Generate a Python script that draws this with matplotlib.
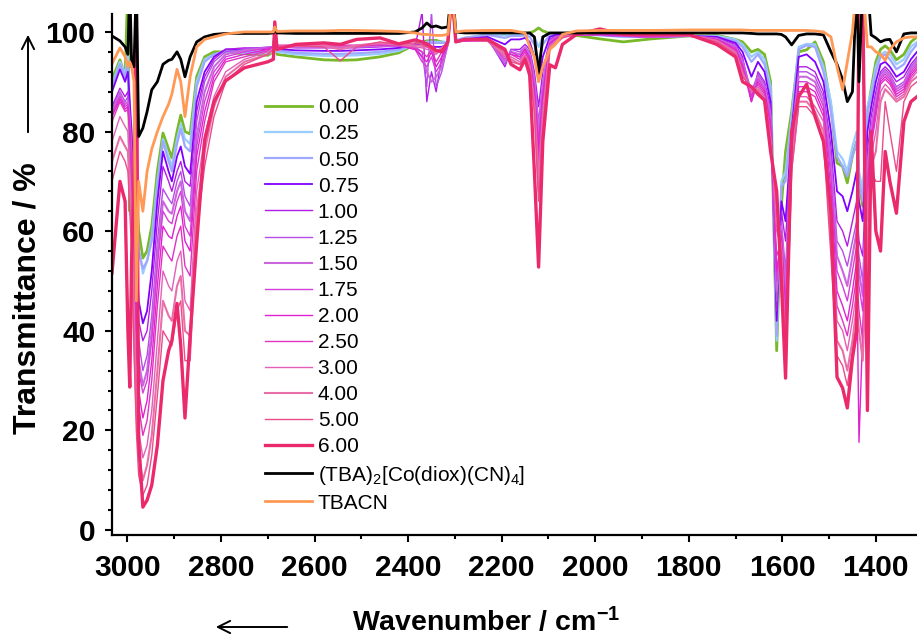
import matplotlib
matplotlib.use("Agg")
import matplotlib.pyplot as plt
from matplotlib.ticker import MultipleLocator

# Font setup (Arial look-alike)
plt.rcParams["font.family"] = ["Liberation Sans", "DejaVu Sans"]
plt.rcParams["mathtext.fontset"] = "custom"
plt.rcParams["mathtext.rm"] = "Liberation Sans"
plt.rcParams["mathtext.it"] = "Liberation Sans:italic"
plt.rcParams["mathtext.bf"] = "Liberation Sans:bold"

# Wavenumber grid (cm-1), 10 per line
wn = [3033, 3016, 3005, 2999, 2995, 2991, 2986, 2981, 2976, 2967,
      2958, 2948, 2936, 2924, 2912, 2905, 2894, 2886, 2877, 2866,
      2852, 2835, 2815, 2790, 2750, 2700, 2688, 2685, 2680, 2640,
      2580, 2545, 2510, 2460, 2420, 2385, 2370, 2360, 2350, 2340,
      2328, 2315, 2306, 2298, 2280, 2230, 2193, 2180, 2161, 2150,
      2140, 2130, 2121, 2112, 2097, 2085, 2070, 2040, 1990, 1940,
      1880, 1800, 1740, 1700, 1685, 1666, 1652, 1638, 1625, 1612,
      1602, 1593, 1580, 1565, 1548, 1530, 1512, 1496, 1483, 1471,
      1461, 1450, 1441, 1436, 1428, 1418, 1410, 1400, 1390, 1380,
      1370, 1356, 1340, 1325, 1312]

t_000 = [90.5, 94.4, 91, 110, 64, 76, 74, 68, 60, 54.6,
         56, 61, 72, 79.7, 76.5, 74.7, 80, 83.3, 80, 79.5,
         91, 95, 96, 96, 95.6, 95.3, 96, 99, 95.5, 95,
         94.4, 94.3, 94.4, 95, 95.8, 97.5, 98, 98.2, 98.3, 98.3,
         98, 97.8, 108, 98, 98.5, 99.5, 99.5, 99.6, 99.6, 99.6,
         99.8, 100.2, 100.8, 100.2, 99.7, 99.5, 99.5, 99.3, 98.6, 98,
         98.6, 99.2, 99.3, 98.5, 98, 96, 96.5, 95.5, 90, 36,
         65, 76, 84, 96, 96.4, 98, 94, 85, 73.7, 73,
         69.7, 75.2, 78, 70, 65, 84, 88.5, 94, 96.5, 97.2,
         96.4, 94.4, 95.5, 98, 99]
t_025 = [89.5, 94, 91.5, 96, 78, 73, 70, 64, 57, 51.5,
         54, 59, 70, 78.5, 75, 73, 78.5, 81.5, 78.5, 77.5,
         90, 94.5, 95.5, 96, 95.8, 95.7, 96, 100.5, 96, 95.5,
         95.2, 95.2, 95.3, 95.6, 96.2, 97.5, 97.8, 98, 98, 98,
         98, 98, 108, 98.3, 98.8, 99.5, 99.3, 99.5, 99.5, 99.5,
         99.5, 99, 97, 99, 99.6, 99.7, 99.7, 99.6, 99.3, 99,
         99, 99.2, 99.2, 98.5, 97.5, 95, 96, 94.5, 89, 38,
         70, 72, 83, 97, 97.6, 97.5, 93, 86, 76, 74.5,
         72, 77, 80, 72, 68, 85, 88, 93, 95.5, 96,
         95.5, 93.5, 94.5, 97, 98]
t_050 = [89, 93.5, 91, 94, 80, 74, 71, 63, 56, 52.5,
         54, 58, 69, 78, 74, 72, 77.5, 80.5, 77, 76,
         89, 94, 95.5, 96.2, 96, 96, 96.5, 100.8, 96.3, 95.8,
         95.6, 95.6, 95.7, 96, 96.5, 97.5, 97.5, 97.8, 97.8, 97.8,
         97.8, 97.8, 108, 98.3, 98.8, 99.4, 98.8, 99.2, 99.2, 99.3,
         99, 97.5, 94, 97.5, 99.4, 99.6, 99.6, 99.6, 99.4, 99.1,
         99, 99.2, 99, 98.2, 97, 94, 95.5, 93.5, 88, 39,
         69, 70, 82, 96.5, 97.3, 97, 92, 84, 75, 73,
         71, 75, 78, 70, 66, 84, 87, 92, 95, 95.5,
         94.5, 92.5, 93.5, 96, 97.5]
t_075 = [88, 92.5, 90, 92, 86, 80, 70, 56, 46, 41.5,
         44, 52, 66, 76, 72, 70, 75, 77, 73, 71.5,
         86, 92, 95, 96.5, 96.5, 96.5, 96.8, 101, 96.6, 96.3,
         96.2, 96.2, 96.3, 96.5, 96.8, 97.5, 97.3, 97.2, 97, 97,
         97, 97.5, 108, 98, 98.5, 99, 97.5, 98.5, 98.5, 98.8,
         98, 95, 90, 95, 99, 99.4, 99.5, 99.5, 99.4, 99.2,
         99, 99.2, 99, 97.8, 96, 91, 94, 92, 86, 42,
         66, 62, 80, 95, 95.5, 94, 90, 80, 68, 67,
         64, 68, 72, 66, 62, 80, 85, 90, 93.5, 94,
         93, 91, 92, 94.5, 96]
t_100 = [85, 88.7, 87, 88, 84, 78, 66, 52, 42, 38,
         40, 48, 62, 73, 70, 68, 72, 74, 70, 69,
         84, 91, 94.5, 96.5, 96.8, 96.8, 97, 101, 97, 96.8,
         96.8, 96.8, 96.8, 97, 97.2, 97, 104, 86, 92, 88,
         95, 98, 108, 98, 98.3, 98.8, 93, 96.5, 96.5, 97.5,
         96.5, 92, 85, 92, 98.5, 99.2, 99.4, 99.5, 99.4, 99.2,
         99, 99.2, 98.8, 97.5, 95, 86, 92, 90, 85, 44,
         64, 58, 80, 93, 93, 92, 88, 77, 62, 60,
         57, 62, 66, 58, 55, 76, 83, 88, 92, 93,
         92, 90, 91, 93.5, 95]
t_125 = [84.5, 88, 86, 87, 83, 76, 62, 48, 38, 32,
         35, 43, 58, 68.5, 66.5, 65.5, 70, 72, 67, 65,
         82, 90, 94, 96, 96.5, 97, 97, 101, 97, 97,
         97, 97, 97, 97.2, 97.3, 97, 96, 89, 104, 89,
         92, 97.5, 108, 98, 98.3, 98.5, 93.5, 96.5, 96, 97,
         96, 91, 82, 90, 98.3, 99, 99.3, 99.5, 99.4, 99.2,
         99, 99.2, 98.7, 97.2, 94.5, 88, 91.5, 89.5, 84, 46,
         62, 52, 79, 92, 92, 91, 87, 75, 58, 56,
         53, 58, 62, 55, 50, 74, 81, 87, 91.5, 92.5,
         91.5, 89, 90, 93, 94.5]
t_150 = [84, 87.5, 85.5, 86, 82, 74, 60, 45, 34, 29,
         32, 40, 55, 66, 64, 63.5, 68, 70, 64, 62,
         79, 88, 93, 95.5, 96.3, 96.8, 97, 101.5, 97, 97,
         97, 97, 97, 97.2, 97.2, 96.8, 95, 92, 90, 91,
         93, 97.5, 108, 98, 98.2, 98.5, 94, 96, 95.5, 96.8,
         95.5, 90, 80, 89, 98, 98.8, 99.2, 99.4, 99.4, 99.2,
         99, 99.2, 98.6, 97, 94, 87, 91, 89, 83, 48,
         61, 48, 78, 91, 91, 90, 86, 73, 55, 52,
         49, 55, 60, 52, 47, 72, 80, 86, 91, 92,
         91, 88.5, 89.5, 92.5, 94]
t_175 = [83.5, 87, 85, 85.5, 81, 73, 58, 43, 32, 27.5,
         30, 38, 53, 64, 62, 61.5, 66, 68, 61, 59,
         77, 86, 92, 95, 96, 96.8, 97, 101.5, 97.2, 97.2,
         97.2, 97.2, 97.2, 97.3, 97.2, 96.5, 94, 93, 95, 92,
         94, 97.5, 108, 98, 98.2, 98.4, 94.5, 96, 95, 96.5,
         95, 89, 78, 88, 97.8, 98.7, 99.2, 99.4, 99.4, 99.2,
         99, 99.2, 98.5, 96.8, 93.5, 87, 90.5, 88.5, 82, 50,
         60, 45, 77, 90, 90, 89, 85, 71, 52, 49,
         46, 52, 57, 49, 44, 70, 79, 85, 90.5, 91.5,
         90.5, 88, 89, 92, 93.5]
t_200 = [83, 86.5, 84.5, 85, 80, 71, 55, 40, 28, 22.5,
         26, 34, 49, 61, 59, 58.5, 63, 65, 58, 56,
         75, 84, 91, 94.5, 95.5, 96.5, 97, 101.5, 97.3, 97.3,
         97.3, 97.3, 97.3, 97.4, 97.3, 96.5, 95, 94, 96, 93,
         95, 97.5, 108, 98, 98.2, 98.3, 95, 95.5, 95, 96.5,
         94.5, 88, 76, 87, 97.6, 98.6, 99.2, 99.4, 99.5, 99.3,
         99.1, 99.2, 98.5, 96.5, 93, 86, 90, 88, 81, 52,
         59, 42, 76, 89, 89, 88, 84, 68, 48, 45,
         42, 48, 54, 17.6, 40, 68, 78, 84, 90, 91,
         90, 87.5, 88.5, 91.5, 93]
t_250 = [82, 86, 84, 84.5, 79, 70, 52, 36, 25, 19,
         22, 30, 45, 57, 55, 54, 59, 61, 53, 51,
         72, 82, 90, 94, 95, 96.2, 97, 101.5, 97.3, 97.3,
         97.3, 97.3, 97.3, 97.4, 97.3, 96.7, 96, 95, 96.5, 94,
         96, 97.5, 108, 98, 98.2, 98.2, 95.5, 95.5, 94.5, 96,
         94, 87, 74, 86, 97.4, 98.4, 99.1, 99.4, 99.6, 99.4,
         99.2, 99.2, 98.4, 96.2, 92.5, 87, 89.5, 87.5, 80, 55,
         58, 40, 75, 88, 88, 87, 83, 65, 45, 42,
         39, 45, 51, 44, 38, 66, 77, 83, 89.5, 90.5,
         89.5, 87, 88, 91, 92.5]
t_300 = [78, 83, 81, 80, 72, 64, 45, 30, 20, 14.5,
         17, 24, 38, 52, 49, 48, 54, 56, 46, 44,
         68, 79, 87, 92, 94.5, 96, 96.8, 101.5, 97.2, 97.3,
         97.3, 97, 97.3, 97.6, 97.4, 97, 96.8, 96.5, 96.5, 95.5,
         96.5, 97.5, 108, 98, 98.3, 98.2, 95, 95, 94, 95.5,
         93.5, 86, 72, 84, 97.2, 98.2, 99, 99.5, 99.8, 99.6,
         99.3, 99.3, 98.3, 96, 92, 88, 89, 87, 79, 60,
         57, 37, 74, 87, 87, 85, 82, 62, 42, 40,
         36, 42, 48, 105, 105, 62, 75, 80, 88, 89.5,
         88.5, 86.5, 87.5, 90.5, 92]
t_400 = [74, 79, 77, 76, 68, 60, 40, 24, 15, 10,
         13, 19, 32, 46, 43, 42, 49, 51, 40, 39,
         64, 76, 85, 91, 94, 95.5, 96.5, 101.5, 97, 97.2,
         97.2, 96.5, 97.3, 97.8, 97.5, 97.3, 97.2, 97, 96.8, 96,
         96.8, 97.5, 108, 98, 98.4, 98.2, 95.5, 94.5, 93.5, 95,
         93, 85, 68, 82, 97, 98, 99, 99.5, 100, 99.7,
         99.4, 99.3, 98.2, 95.8, 91.5, 88.5, 88.5, 86.5, 78, 64,
         56, 35, 73, 86, 86, 84, 80, 58, 38, 36,
         32, 38, 45, 40, 34, 58, 73, 76, 86, 88.5,
         87.5, 86, 87, 90, 91]
t_500 = [70, 76, 74, 72, 64, 56, 36, 20, 11, 7,
         9, 15, 27, 40, 38, 37, 44, 46, 34, 34,
         60, 73, 83, 90, 93.5, 95.5, 96.5, 101.5, 97, 97.2,
         97, 94.2, 97, 98, 97.5, 97.8, 97.5, 97, 96.5, 96,
         96.5, 97.5, 108, 98, 98.4, 98.2, 96, 94, 93.5, 95,
         92.5, 84, 66, 80, 96.5, 97.5, 98.8, 99.6, 100.2, 99.8,
         99.5, 99.4, 98, 95.5, 91, 89, 88, 86, 77, 66,
         55, 33, 72, 85, 85, 83, 78, 55, 35, 33,
         29, 36, 42, 105, 105, 40, 72, 70, 70, 86,
         80, 72, 86, 89, 90]
t_600 = [51.6, 70, 66, 40, 28.7, 55, 70, 108, 18, 4.6,
         6, 9, 17, 30, 36, 38, 45.5, 37, 22.5, 39,
         57.6, 78.3, 86, 90.2, 92.8, 94, 94.5, 102, 96.5, 97.5,
         97.8, 97.5, 98.5, 98.8, 97.6, 98.4, 98, 97.6, 97, 96.3,
         96, 98, 108, 98, 98.5, 98.5, 96.5, 93.5, 92.4, 94.5,
         91.3, 72, 52.8, 78, 93.4, 92.8, 97.5, 99.5, 100.6, 99.5,
         99.5, 99.5, 97.5, 95, 90, 89, 87.5, 86.3, 76, 68,
         50, 30.5, 80, 87, 89.5, 83, 78, 64, 30.7, 28.5,
         24.5, 34.5, 40, 108, 108, 24, 80, 60, 56, 76,
         70, 63.6, 82, 86, 87]
t_complex = [99.2, 98.2, 97, 95.5, 110, 93, 93, 110, 79, 80.7,
             84, 88.4, 90, 93.5, 94.3, 94.5, 96, 94.5, 91, 95,
             98, 99, 99.5, 99.7, 99.7, 99.7, 99.8, 100.6, 99.8, 99.7,
             99.7, 99.7, 99.7, 99.7, 99.7, 100, 100.8, 101.8, 101, 101.2,
             100.8, 101, 110, 100, 99.8, 99.8, 99.8, 99.8, 99.8, 99.8,
             99.8, 99, 91.7, 99, 99.8, 99.8, 99.8, 99.8, 99.8, 99.8,
             99.8, 99.8, 99.8, 99.8, 99.8, 99.7, 99.6, 99.6, 99.6, 99.6,
             99.5, 99, 97.4, 99.3, 99.6, 99.6, 99.4, 96, 93.5, 90.4,
             86, 88, 110, 90, 110, 110, 99.4, 98.8, 98, 98.4,
             98.5, 96, 99.6, 99.8, 99.8]
t_tbacn = [93.6, 96.8, 95, 93, 94, 93, 90, 46, 70, 64,
           72, 76.5, 80, 83, 85.5, 87.5, 92.5, 90, 83, 91,
           97, 98.5, 99, 99.6, 100, 100, 100, 101, 100.1, 100.2,
           100.2, 100.3, 100.3, 100.2, 100.1, 99.8, 99.5, 99.5, 99.4, 99.3,
           99.3, 99.5, 108, 100, 100.2, 100.3, 100.3, 100.3, 100, 99.8,
           97, 95, 90, 93, 96.5, 97.5, 99.5, 100.2, 100.3, 100.3,
           100.3, 100.4, 100.4, 100.4, 100.4, 100.3, 100.3, 100.3, 100.3, 100.3,
           100.3, 100.3, 100.3, 100.3, 100.3, 100.2, 100, 99, 93, 88.4,
           94, 100, 110, 110, 110, 97, 97, 96, 95.5, 94.3,
           96.5, 98, 98.8, 99, 99]

labels = ["0.00", "0.25", "0.50", "0.75", "1.00", "1.25", "1.50", "1.75",
          "2.00", "2.50", "3.00", "4.00", "5.00", "6.00",
          r"(TBA)$_2$[Co(diox)(CN)$_4$]", "TBACN"]
series = [t_000, t_025, t_050, t_075, t_100, t_125, t_150, t_175,
          t_200, t_250, t_300, t_400, t_500, t_600, t_complex, t_tbacn]
colors = ["#79b829", "#99ccff", "#9fa8ff", "#8000ff", "#b21de6", "#b54de6",
          "#cc66dd", "#d33fd9", "#e022cf", "#e033c2", "#e45fb8", "#e86fa8",
          "#ea4c8c", "#ea2a6c", "#000000", "#ff9955"]
widths = [2.0, 1.6, 1.6, 1.3, 1.0, 1.0, 1.5, 1.0,
          1.0, 1.0, 1.0, 1.5, 1.0, 2.4, 2.0, 2.0]

fig = plt.figure(figsize=(9.17, 6.39), dpi=100)
ax = fig.add_axes([112 / 917, 104 / 639, 805 / 917, 521 / 639])

for y, lab, c, lw in zip(series, labels, colors, widths):
    ax.plot(wn, y, color=c, lw=lw, label=lab)

ax.set_xlim(3033, 1312)
ax.set_ylim(-1, 103.6)
ax.xaxis.set_major_locator(MultipleLocator(200))
ax.xaxis.set_minor_locator(MultipleLocator(100))
ax.yaxis.set_major_locator(MultipleLocator(20))
ax.yaxis.set_minor_locator(MultipleLocator(4))

for s in ["top", "right"]:
    ax.spines[s].set_visible(False)
for s in ["left", "bottom"]:
    ax.spines[s].set_linewidth(1.6)

ax.tick_params(which="both", direction="out", width=1.5)
ax.tick_params(which="major", length=5)
ax.tick_params(which="minor", length=3)
ax.tick_params(axis="y", which="major", pad=7)
ax.tick_params(axis="x", which="major", pad=9)

for t in ax.get_yticklabels() + ax.get_xticklabels():
    t.set_fontsize(21.5)
    t.set_fontweight("bold")

ax.legend(loc="upper left", bbox_to_anchor=(0.19, 0.838), frameon=False,
          fontsize=15, handlelength=2.25, handletextpad=0.28,
          labelspacing=0.34, borderpad=0, borderaxespad=0)

# Axis titles and direction arrows
fig.text(28 / 917, 1 - 298 / 639, "Transmittance / %", rotation=90,
         ha="center", va="center", fontsize=23, fontweight="bold")
fig.text(486 / 917, 1 - 622 / 639, r"Wavenumber / cm$^{\mathbf{-1}}$",
         ha="center", va="center", fontsize=20.5, fontweight="bold")
fig.add_artist(matplotlib.patches.FancyArrowPatch(
    (28 / 917, 1 - 135 / 639), (28 / 917, 1 - 32 / 639),
    transform=fig.transFigure, arrowstyle="->", mutation_scale=22, lw=1.4, color="black"))
fig.add_artist(matplotlib.patches.FancyArrowPatch(
    (290 / 917, 1 - 627 / 639), (213 / 917, 1 - 627 / 639),
    transform=fig.transFigure, arrowstyle="->", mutation_scale=22, lw=1.4, color="black"))

fig.savefig("out.png", dpi=100)
